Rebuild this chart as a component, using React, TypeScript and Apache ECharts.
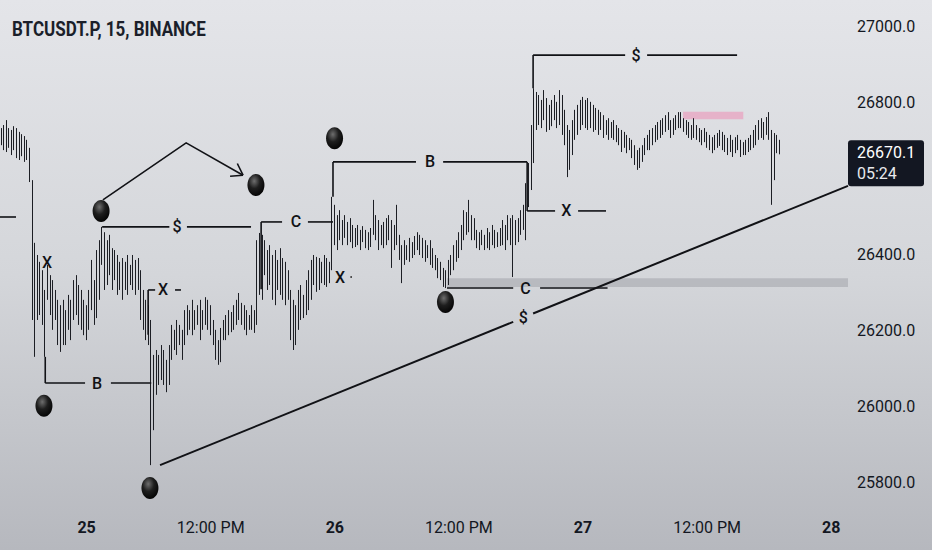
import React, { useEffect, useRef } from "react";
import * as echarts from "echarts";

// ---------- text ----------
const symbolTitle = "BTCUSDT.P, 15, BINANCE";
const lastPrice = 26670.1;
const countdown = "05:24";
const hiddenPriceTick = 26600;

// ---------- categories: 15-minute slots from Sep 24 15:45 ----------
const startDay = 24;
const startMinute = 15 * 60 + 45;
const slotCount = 328;
const categories: string[] = [];
for (let i = 0; i < slotCount; i++) {
  const m = startMinute + i * 15;
  const d = startDay + Math.floor(m / 1440);
  const hh = Math.floor((m % 1440) / 60);
  const mm = m % 60;
  categories.push(`${d} ${String(hh).padStart(2, "0")}:${String(mm).padStart(2, "0")}`);
}
const dayTickTime = "00:00";
const noonTickTime = "12:00";
const noonTickLabel = "12:00 PM";

// ---------- OHLC values ----------
const opens = [
  26700, 26725, 26690, 26730, 26695, 26720, 26685, 26720, 26665, 26705,
  26655, 26680, 26597, 26260, 26380, 26250, 26360, 26230, 26290, 26345,
  26255, 26300, 26240, 26175, 26250, 26170, 26245, 26280, 26235, 26325,
  26250, 26305, 26215, 26265, 26205, 26300, 26330, 26235, 26400, 26430,
  26390, 26320, 26430, 26360, 26340, 26400, 26310, 26375, 26310, 26375,
  26325, 26365, 26315, 26380, 26320, 26240, 26215, 26265, 26175, 26100,
  26040, 26135, 26075, 26150, 26065, 26110, 26155, 26200, 26160, 26215,
  26170, 26170, 26245, 26205, 26250, 26250, 26215, 26260, 26205, 26250,
  26280, 26210, 26195, 26170, 26130, 26120, 26200, 26220, 26190, 26245,
  26205, 26260, 26230, 26270, 26220, 26255, 26205, 26235, 26210, 26240,
  26420, 26330, 26435, 26355, 26400, 26330, 26390, 26310, 26380, 26390,
  26290, 26355, 26290, 26190, 26165, 26255, 26230, 26290, 26245, 26325,
  26350, 26380, 26330, 26385, 26330, 26375, 26325, 26380, 26365, 26530,
  26440, 26495, 26445, 26485, 26450, 26435, 26475, 26425, 26465, 26430,
  26460, 26440, 26425, 26455, 26455, 26500, 26445, 26475, 26430, 26480,
  26440, 26490, 26420, 26470, 26440, 26395, 26415, 26390, 26420, 26395,
  26430, 26410, 26450, 26405, 26435, 26395, 26420, 26380, 26375, 26365,
  26345, 26340, 26320, 26350, 26375, 26395, 26420, 26430, 26455, 26470,
  26505, 26465, 26500, 26445, 26460, 26425, 26455, 26430, 26420, 26460,
  26425, 26465, 26425, 26455, 26430, 26475, 26440, 26495, 26435, 26480,
  26440, 26490, 26510, 26470, 26580, 26630, 26730, 26810, 26745, 26805,
  26760, 26810, 26735, 26790, 26760, 26800, 26745, 26820, 26725, 26695,
  26625, 26715, 26745, 26770, 26735, 26800, 26750, 26800, 26740, 26795,
  26730, 26780, 26730, 26765, 26720, 26750, 26710, 26745, 26710, 26730,
  26695, 26685, 26715, 26680, 26700, 26660, 26645, 26630, 26670, 26680,
  26700, 26680, 26720, 26700, 26735, 26710, 26750, 26725, 26760, 26750,
  26720, 26755, 26735, 26770, 26740, 26730, 26745, 26715, 26735, 26740,
  26710, 26725, 26700, 26720, 26690, 26705, 26680, 26710, 26690, 26720,
  26685, 26700, 26675, 26700, 26670, 26700, 26685, 26665, 26690, 26675,
  26700, 26705, 26720, 26735, 26745, 26715, 26745, 26755, 26715, 26600,
  26700, 26680,
];
const highs = [
  26734, 26742, 26755, 26734, 26729, 26739, 26734, 26724, 26718, 26713,
  26703, 26682, 26597, 26432, 26400, 26382, 26360, 26308, 26374, 26347,
  26334, 26308, 26282, 26268, 26282, 26255, 26295, 26282, 26334, 26347,
  26321, 26308, 26282, 26268, 26308, 26387, 26334, 26413, 26439, 26474,
  26460, 26439, 26453, 26418, 26413, 26400, 26382, 26392, 26382, 26400,
  26374, 26400, 26387, 26392, 26360, 26308, 26282, 26268, 26229, 26137,
  26150, 26137, 26163, 26150, 26124, 26163, 26216, 26203, 26229, 26216,
  26203, 26255, 26268, 26255, 26282, 26255, 26268, 26282, 26255, 26289,
  26282, 26268, 26229, 26203, 26176, 26208, 26229, 26242, 26255, 26250,
  26268, 26282, 26300, 26274, 26268, 26255, 26242, 26268, 26255, 26439,
  26458, 26453, 26439, 26413, 26426, 26400, 26413, 26387, 26418, 26392,
  26382, 26360, 26308, 26282, 26268, 26308, 26321, 26295, 26334, 26360,
  26387, 26400, 26395, 26392, 26382, 26400, 26392, 26382, 26553, 26532,
  26505, 26518, 26492, 26505, 26487, 26497, 26479, 26471, 26479, 26466,
  26476, 26466, 26460, 26471, 26545, 26505, 26492, 26479, 26487, 26497,
  26505, 26492, 26479, 26532, 26453, 26426, 26439, 26426, 26445, 26434,
  26450, 26460, 26453, 26445, 26439, 26426, 26439, 26418, 26400, 26392,
  26382, 26366, 26360, 26387, 26400, 26426, 26439, 26460, 26479, 26518,
  26513, 26545, 26505, 26497, 26466, 26460, 26466, 26453, 26471, 26460,
  26479, 26466, 26460, 26471, 26492, 26479, 26505, 26497, 26505, 26492,
  26497, 26518, 26532, 26589, 26642, 26742, 26839, 26829, 26821, 26808,
  26834, 26813, 26795, 26808, 26821, 26803, 26834, 26821, 26782, 26742,
  26729, 26755, 26782, 26795, 26808, 26816, 26808, 26813, 26803, 26795,
  26787, 26782, 26776, 26768, 26755, 26760, 26750, 26755, 26742, 26734,
  26729, 26724, 26716, 26708, 26703, 26689, 26676, 26682, 26689, 26708,
  26716, 26729, 26734, 26742, 26750, 26755, 26760, 26768, 26776, 26755,
  26760, 26768, 26776, 26776, 26760, 26755, 26750, 26742, 26760, 26742,
  26734, 26729, 26734, 26724, 26716, 26710, 26716, 26721, 26729, 26724,
  26716, 26708, 26716, 26703, 26710, 26716, 26703, 26697, 26703, 26708,
  26716, 26729, 26742, 26755, 26760, 26750, 26763, 26776, 26729, 26721,
  26716, 26703,
];
const lows = [
  26689, 26676, 26671, 26682, 26663, 26676, 26655, 26650, 26660, 26645,
  26650, 26592, 26229, 26132, 26229, 26242, 26216, 26132, 26282, 26242,
  26203, 26229, 26163, 26145, 26163, 26163, 26203, 26176, 26229, 26242,
  26216, 26203, 26189, 26176, 26203, 26255, 26216, 26234, 26282, 26374,
  26308, 26321, 26347, 26308, 26334, 26295, 26308, 26282, 26308, 26295,
  26321, 26308, 26295, 26308, 26229, 26203, 26176, 26163, 25847, 25939,
  26032, 26058, 26071, 26058, 26039, 26058, 26124, 26150, 26137, 26163,
  26124, 26163, 26189, 26203, 26189, 26203, 26216, 26176, 26203, 26216,
  26203, 26189, 26163, 26124, 26111, 26118, 26176, 26176, 26189, 26197,
  26203, 26216, 26229, 26216, 26203, 26189, 26203, 26203, 26195, 26216,
  26295, 26282, 26347, 26308, 26321, 26282, 26268, 26308, 26295, 26282,
  26268, 26282, 26176, 26150, 26163, 26203, 26229, 26234, 26242, 26255,
  26282, 26321, 26303, 26308, 26326, 26321, 26316, 26326, 26360, 26426,
  26413, 26439, 26426, 26445, 26426, 26434, 26418, 26421, 26426, 26413,
  26434, 26418, 26413, 26421, 26453, 26439, 26413, 26426, 26418, 26426,
  26439, 26366, 26413, 26426, 26387, 26326, 26374, 26387, 26382, 26392,
  26400, 26413, 26400, 26392, 26382, 26392, 26374, 26366, 26360, 26339,
  26334, 26316, 26313, 26321, 26347, 26360, 26382, 26392, 26413, 26439,
  26453, 26460, 26439, 26439, 26418, 26413, 26426, 26413, 26418, 26413,
  26426, 26418, 26421, 26424, 26426, 26413, 26439, 26426, 26342, 26426,
  26434, 26453, 26466, 26439, 26526, 26571, 26642, 26729, 26742, 26734,
  26755, 26724, 26729, 26739, 26755, 26734, 26742, 26716, 26689, 26605,
  26624, 26663, 26703, 26716, 26729, 26742, 26734, 26729, 26734, 26724,
  26729, 26716, 26729, 26708, 26716, 26703, 26708, 26703, 26697, 26689,
  26671, 26682, 26668, 26676, 26655, 26637, 26624, 26629, 26645, 26663,
  26676, 26676, 26689, 26697, 26703, 26708, 26716, 26724, 26729, 26708,
  26716, 26729, 26734, 26734, 26724, 26716, 26708, 26703, 26708, 26703,
  26697, 26689, 26697, 26682, 26676, 26668, 26676, 26682, 26687, 26676,
  26671, 26663, 26671, 26658, 26668, 26676, 26658, 26663, 26663, 26671,
  26676, 26682, 26689, 26703, 26708, 26703, 26716, 26703, 26532, 26597,
  26668, 26665,
];
const closes = [
  26725, 26690, 26745, 26695, 26720, 26685, 26725, 26665, 26705, 26655,
  26690, 26600, 26260, 26380, 26250, 26360, 26230, 26290, 26360, 26255,
  26320, 26240, 26175, 26250, 26170, 26245, 26285, 26190, 26325, 26250,
  26310, 26215, 26270, 26185, 26300, 26380, 26225, 26400, 26430, 26390,
  26320, 26430, 26360, 26315, 26405, 26300, 26375, 26290, 26375, 26300,
  26365, 26315, 26380, 26320, 26240, 26215, 26270, 26175, 26100, 25980,
  26140, 26065, 26155, 26065, 26110, 26155, 26205, 26160, 26220, 26170,
  26135, 26245, 26195, 26250, 26275, 26210, 26260, 26190, 26250, 26280,
  26210, 26195, 26170, 26130, 26120, 26200, 26220, 26185, 26245, 26205,
  26260, 26225, 26290, 26220, 26260, 26195, 26235, 26210, 26240, 26420,
  26330, 26440, 26355, 26400, 26330, 26390, 26280, 26380, 26410, 26290,
  26375, 26290, 26190, 26160, 26255, 26210, 26310, 26240, 26325, 26350,
  26380, 26330, 26385, 26315, 26375, 26325, 26385, 26335, 26530, 26440,
  26495, 26445, 26485, 26450, 26430, 26490, 26425, 26465, 26430, 26460,
  26440, 26425, 26455, 26430, 26530, 26445, 26480, 26430, 26480, 26435,
  26495, 26400, 26470, 26440, 26395, 26415, 26380, 26420, 26390, 26430,
  26405, 26455, 26405, 26440, 26390, 26420, 26380, 26375, 26365, 26345,
  26340, 26320, 26350, 26380, 26395, 26420, 26430, 26455, 26470, 26510,
  26460, 26530, 26445, 26490, 26425, 26455, 26430, 26420, 26465, 26420,
  26470, 26425, 26455, 26430, 26485, 26420, 26495, 26435, 26480, 26440,
  26490, 26510, 26525, 26580, 26630, 26730, 26810, 26740, 26815, 26740,
  26825, 26730, 26790, 26745, 26815, 26740, 26825, 26725, 26695, 26620,
  26715, 26745, 26775, 26730, 26800, 26750, 26800, 26740, 26795, 26730,
  26780, 26725, 26770, 26715, 26750, 26710, 26745, 26710, 26735, 26695,
  26680, 26715, 26675, 26700, 26660, 26645, 26630, 26670, 26680, 26700,
  26680, 26720, 26695, 26735, 26710, 26750, 26725, 26760, 26770, 26715,
  26755, 26735, 26770, 26740, 26730, 26745, 26715, 26735, 26750, 26710,
  26725, 26695, 26725, 26690, 26705, 26675, 26710, 26690, 26720, 26685,
  26700, 26670, 26710, 26665, 26700, 26685, 26665, 26690, 26670, 26700,
  26710, 26720, 26735, 26745, 26715, 26745, 26755, 26715, 26600, 26700,
  26680, 26670.1,
];

// ---------- drawings (in data space: slot index, price) ----------
const bracketSegments: [number, number, number, number][] = [
  [-1, 26500, 5.7, 26500],
  [17, 26132, 17, 26063],
  [17, 26063, 32.4, 26063],
  [42.4, 26063, 58, 26063],
  [39, 26474, 65, 26474],
  [71.8, 26474, 96.6, 26474],
  [100.5, 26487, 100.5, 26310],
  [100.5, 26487, 108.6, 26487],
  [118.6, 26487, 128.3, 26487],
  [56.8, 26308, 56.8, 26190],
  [56.8, 26308, 59.5, 26308],
  [67.2, 26308, 69.5, 26308],
  [128.3, 26645, 128.3, 26553],
  [128.3, 26645, 160.4, 26645],
  [170.9, 26645, 203.4, 26645],
  [203.4, 26645, 203.4, 26516],
  [203.4, 26516, 214.2, 26516],
  [223.1, 26516, 233.9, 26516],
  [172.4, 26313, 198, 26313],
  [208.4, 26313, 234.5, 26313],
  [205.7, 26926, 205.7, 26839],
  [205.7, 26926, 241.3, 26926],
  [249.8, 26926, 284.6, 26926],
];
const trendSegments: [number, number, number, number][] = [
  [61.4, 25847, 198, 26224],
  [205.7, 26246, 327.5, 26582],
];
const annotationLabels: [string, number, number][] = [
  ["X", 17.7, 26379],
  ["B", 37, 26063],
  ["$", 68, 26474],
  ["C", 114, 26487],
  ["X", 62.6, 26308],
  ["B", 165.8, 26645],
  ["X", 131, 26342],
  ["X", 218.5, 26516],
  ["C", 202.7, 26313],
  ["$", 201.9, 26235],
  ["$", 245.5, 26926],
];
const pivotBalls: [number, number][] = [
  [38.6, 26516],
  [98.5, 26584],
  [128.9, 26707],
  [16.5, 26003],
  [57.5, 25787],
  [171.8, 26276],
];
const arrowPath: [number, number][] = [
  [39.3, 26545],
  [71.5, 26695],
  [93.5, 26610],
];
const zones: [number, number, number, number, string][] = [
  [172.4, 26339, 327.5, 26316, "rgba(150,152,160,0.45)"],
  [263.7, 26777, 287, 26757, "rgba(232,170,196,0.85)"],
];
const dotMarks: [number, number][] = [[135.3, 26342]];

const INK = "#131722";
const BAR = "#1c1e24";

export default function App() {
  const ref = useRef<HTMLDivElement>(null);

  useEffect(() => {
    const el = ref.current;
    if (!el) return;
    const chart = echarts.init(el, null, { renderer: "svg" });
    const candles = opens.map((o, i) => [o, closes[i], lows[i], highs[i]]);

    chart.setOption({
      animation: false,
      grid: { left: 0, right: 84, top: 0, bottom: 45, containLabel: false, outerBoundsMode: "none" },
      xAxis: {
        type: "category",
        data: categories,
        boundaryGap: true,
        axisLine: { show: false },
        axisTick: { show: false },
        splitLine: { show: false },
        axisLabel: {
          margin: 14,
          interval: (_i: number, v: string) => v.endsWith(" " + dayTickTime) || v.endsWith(" " + noonTickTime),
          formatter: (v: string) => {
            const [d, t] = v.split(" ");
            return t === dayTickTime ? `{d|${d}}` : `{n|${noonTickLabel}}`;
          },
          rich: {
            d: { fontFamily: "Roboto", fontSize: 16, fontWeight: "bold", color: INK },
            n: { fontFamily: "Roboto", fontSize: 16, color: INK },
          },
        },
      },
      yAxis: {
        type: "value",
        position: "right",
        min: 25742.1,
        max: 27071.05,
        splitNumber: 7,
        scale: true,
        axisLine: { show: false },
        axisTick: { show: false },
        splitLine: { show: false },
        axisLabel: {
          margin: 9,
          fontFamily: "Roboto",
          fontSize: 16,
          color: INK,
          formatter: (v: number) => {
            const r = Math.round(v);
            if (Math.abs(v - r) > 0.01 || r % 200 !== 0 || r === hiddenPriceTick) return "";
            return r.toFixed(1);
          },
        },
      },
      series: [
        {
          type: "candlestick",
          data: candles,
          barWidth: 1,
          z: 3,
          itemStyle: {
            color: BAR,
            color0: BAR,
            borderColor: BAR,
            borderColor0: BAR,
            borderWidth: 1,
          },
        },
      ],
    });

    const a = chart.convertToPixel({ gridIndex: 0 }, [0, 26000]) as number[];
    const b = chart.convertToPixel({ gridIndex: 0 }, [100, 26800]) as number[];
    const X = (i: number) => a[0] + (i * (b[0] - a[0])) / 100;
    const Y = (p: number) => a[1] + ((p - 26000) * (b[1] - a[1])) / 800;

    const els: any[] = [];
    zones.forEach(([i1, p1, i2, p2, c]) => {
      els.push({
        type: "rect",
        z: 1,
        silent: true,
        shape: { x: X(i1), y: Y(p1), width: X(i2) - X(i1), height: Y(p2) - Y(p1) },
        style: { fill: c },
      });
    });
    const seg = (s: [number, number, number, number], w: number) => ({
      type: "line",
      z: 10,
      silent: true,
      shape: { x1: X(s[0]), y1: Y(s[1]), x2: X(s[2]), y2: Y(s[3]) },
      style: { stroke: "#111216", lineWidth: w, lineCap: "butt" },
    });
    bracketSegments.forEach((s) => els.push(seg(s, 1.6)));
    trendSegments.forEach((s) => els.push(seg(s, 2)));

    const pts = arrowPath.map(([i, p]) => [X(i), Y(p)]);
    els.push({
      type: "polyline",
      z: 10,
      silent: true,
      shape: { points: pts },
      style: { stroke: "#111216", lineWidth: 1.6, fill: null },
    });
    const end = pts[pts.length - 1];
    const prev = pts[pts.length - 2];
    const ang = Math.atan2(end[1] - prev[1], end[0] - prev[0]);
    [0.6, -0.6].forEach((da) => {
      els.push({
        type: "line",
        z: 10,
        silent: true,
        shape: {
          x1: end[0],
          y1: end[1],
          x2: end[0] - 13 * Math.cos(ang + da),
          y2: end[1] - 13 * Math.sin(ang + da),
        },
        style: { stroke: "#111216", lineWidth: 1.6 },
      });
    });

    annotationLabels.forEach(([t, i, p]) => {
      els.push({
        type: "text",
        z: 11,
        silent: true,
        x: X(i),
        y: Y(p),
        style: {
          text: t,
          fill: "#111216",
          font: "500 16px Roboto",
          textAlign: "center",
          textVerticalAlign: "middle",
          align: "center",
          verticalAlign: "middle",
        },
      });
    });
    dotMarks.forEach(([i, p]) => {
      els.push({ type: "circle", z: 11, silent: true, shape: { cx: X(i), cy: Y(p), r: 0.9 }, style: { fill: "#333" } });
    });

    pivotBalls.forEach(([i, p]) => {
      els.push({
        type: "ellipse",
        z: 12,
        silent: true,
        shape: { cx: X(i), cy: Y(p), rx: 8.5, ry: 11 },
        style: {
          fill: {
            type: "radial",
            x: 0.4,
            y: 0.32,
            r: 0.75,
            colorStops: [
              { offset: 0, color: "#6e6e6e" },
              { offset: 0.45, color: "#1e1e1e" },
              { offset: 1, color: "#000000" },
            ],
          },
        },
      });
    });

    // last price tag
    const tagY = Y(lastPrice);
    els.push({
      type: "rect",
      z: 20,
      silent: true,
      shape: { x: 848, y: tagY - 12, width: 76, height: 46, r: 3 },
      style: { fill: "#131722" },
    });
    els.push({
      type: "text",
      z: 21,
      silent: true,
      x: 857,
      y: tagY,
      style: { text: lastPrice.toFixed(1), fill: "#ffffff", font: "16px Roboto", textVerticalAlign: "middle", verticalAlign: "middle" },
    });
    els.push({
      type: "text",
      z: 21,
      silent: true,
      x: 857,
      y: tagY + 21,
      style: { text: countdown, fill: "#e8e9ec", font: "16px Roboto", textVerticalAlign: "middle", verticalAlign: "middle" },
    });

    // title
    els.push({
      type: "text",
      z: 21,
      silent: true,
      x: 12,
      y: 30,
      scaleX: 0.85,
      style: {
        text: symbolTitle,
        fill: "#1b1f2a",
        font: "bold 20px Roboto",
        textVerticalAlign: "middle",
        verticalAlign: "middle",
      },
    });

    chart.setOption({ graphic: { elements: els } });
    return () => chart.dispose();
  }, []);

  return (
    <div
      style={{
        position: "fixed",
        left: 0,
        top: 0,
        width: 932,
        height: 550,
        background: "linear-gradient(180deg, #e4e5e9 0%, #d4d6da 50%, #b6b8be 100%)",
      }}
    >
      <div ref={ref} style={{ width: 932, height: 550 }} />
    </div>
  );
}
